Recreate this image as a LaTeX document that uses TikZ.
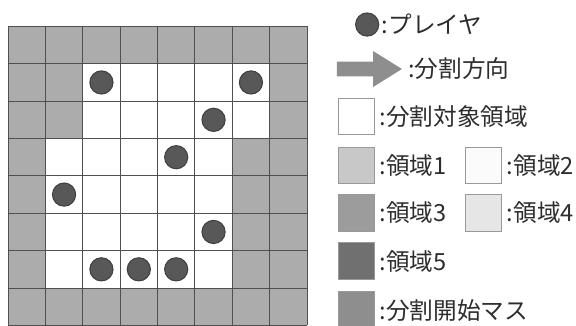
\documentclass[tikz,border=0pt]{standalone}
\usepackage{fontspec}
\setmainfont{Noto Sans CJK JP}
\usetikzlibrary{positioning}

\definecolor{wallgray}{RGB}{172,172,172}
\definecolor{linegray}{RGB}{80,80,80}
\definecolor{playergray}{RGB}{88,88,88}
\definecolor{areaone}{RGB}{200,200,200}
\definecolor{areatwo}{RGB}{251,251,251}
\definecolor{areathree}{RGB}{156,156,156}
\definecolor{areafour}{RGB}{230,230,230}
\definecolor{areafive}{RGB}{112,112,112}
\definecolor{startgray}{RGB}{142,142,142}
\definecolor{textgray}{RGB}{45,45,45}

\begin{document}
\begin{tikzpicture}[
        player/.style={circle, draw=black!75, line width=0.8pt, fill=playergray, minimum size=0.62cm, inner sep=0pt},
        swatch/.style={rectangle, draw=black!40, line width=0.5pt, minimum size=0.98cm, inner sep=0pt},
        legend/.style={font=\fontsize{18}{20}\selectfont, text=textgray, inner sep=0pt, anchor=west}
    ]
        \useasboundingbox (-0.214,-0.016) rectangle (15.197,8.706);

        % Board
        \fill[wallgray] (0,0) rectangle (8,8);
        \fill[white] (2,5) rectangle (7,7);
        \fill[white] (1,1) rectangle (6,5);
        \draw[linegray, line width=0.6pt, step=1] (0,0) grid (8,8);

        % Players
        \foreach \c/\r [count=\i] in {2/1, 6/1, 5/2, 4/3, 1/4, 5/5, 2/6, 3/6, 4/6} {
            \node[player] (p\i) at (\c+0.5, 7.5-\r) {};
        }

        % Legend: player and direction
        \node[player] (lplayer) at (9.61,8.05) {};
        \node[legend, right=0.06cm of lplayer] (tplayer) {:プレイヤ};

        \fill[startgray] (8.80,6.66) -- (9.77,6.66) -- (9.77,6.38) -- (10.54,6.86)
            -- (9.77,7.34) -- (9.77,7.06) -- (8.80,7.06) -- cycle;
        \coordinate (arrowtip) at (10.54,6.86);
        \node[legend, right=0.16cm of arrowtip] (tdir) {:分割方向};

        % Legend: regions
        \node[swatch, fill=white] (starget) at (9.32,5.59) {};
        \node[legend, right=0.12cm of starget] (ttarget) {:分割対象領域};

        \node[swatch, fill=areaone] (sone) at (9.32,4.28) {};
        \node[legend, right=0.12cm of sone] (tone) {:領域1};
        \node[swatch, fill=areatwo] (stwo) at (12.72,4.28) {};
        \node[legend, right=0.12cm of stwo] (ttwo) {:領域2};

        \node[swatch, fill=areathree] (sthree) at (9.32,3.01) {};
        \node[legend, right=0.12cm of sthree] (tthree) {:領域3};
        \node[swatch, fill=areafour] (sfour) at (12.72,3.01) {};
        \node[legend, right=0.12cm of sfour] (tfour) {:領域4};

        \node[swatch, fill=areafive] (sfive) at (9.32,1.72) {};
        \node[legend, right=0.12cm of sfive] (tfive) {:領域5};

        \node[swatch, fill=startgray] (sstart) at (9.32,0.41) {};
        \node[legend, right=0.12cm of sstart] (tstart) {:分割開始マス};

    \end{tikzpicture}
\end{document}
